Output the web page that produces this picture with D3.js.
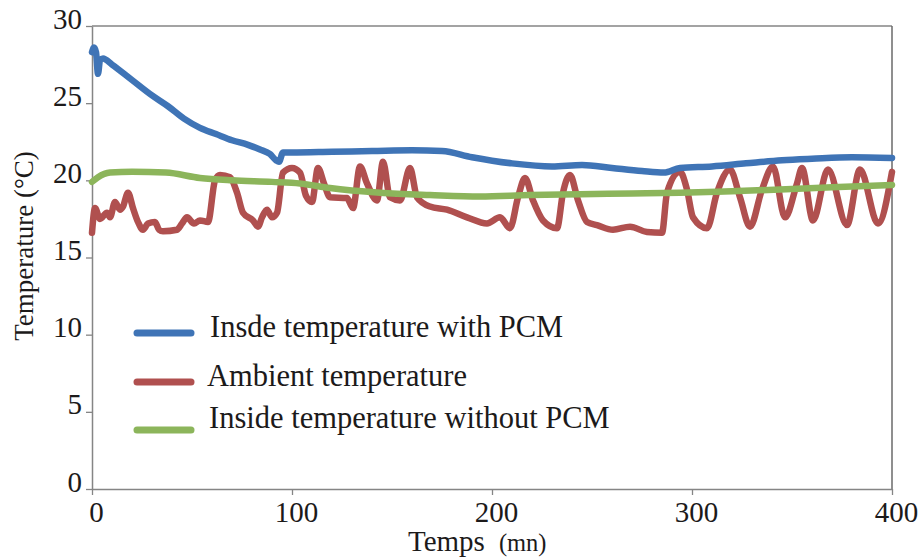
<!DOCTYPE html>
<html>
<head>
<meta charset="utf-8">
<script src="https://cdn.jsdelivr.net/npm/d3@7"></script>
<style>
  html, body { margin: 0; padding: 0; background: #fff; }
  svg { display: block; }
</style>
</head>
<body>
<svg id="chart" width="924" height="560" font-family="Liberation Serif, Tinos, Times New Roman, DejaVu Serif, serif"></svg>
<script>
// ---- data (time in minutes, temperature in °C) ----
const withPcmTime = [0, 1, 2, 3, 4, 5.5, 10, 20, 30, 38, 46, 54, 62, 70, 78, 84, 89, 92, 93.5, 95.5, 100, 120, 140, 160, 175, 190, 210, 230, 245, 260, 275, 286, 294, 310, 327, 345, 360, 380, 400];
const withPcmTemp = [28.3, 28.6, 28.3, 26.9, 27.8, 27.9, 27.5, 26.5, 25.5, 24.8, 24.0, 23.4, 23.0, 22.6, 22.3, 22.0, 21.7, 21.3, 21.2, 21.8, 21.8, 21.85, 21.9, 21.95, 21.9, 21.5, 21.1, 20.9, 21.0, 20.8, 20.6, 20.5, 20.8, 20.9, 21.1, 21.3, 21.4, 21.5, 21.45];

const ambientTime = [0, 1.5, 4, 7.5, 9, 11.5, 14, 15.5, 18, 20.5, 23, 25.5, 28, 31.5, 33.5, 35.5, 42.5, 45, 47.5, 51, 54, 58, 61.5, 64, 69, 72.5, 75.5, 80.5, 83, 85, 87.5, 90, 92.5, 95.5, 100, 104, 107, 110, 113, 116, 119, 127.5, 130.5, 134, 137.5, 142.5, 145.5, 149, 154, 159, 162.5, 169, 177.5, 187.5, 197.5, 204, 209, 213, 216.5, 220.5, 225.5, 232.5, 235.5, 239, 243, 247.5, 252.5, 260.5, 269, 277.5, 285, 287.5, 294, 297.5, 300.5, 307.5, 312.5, 319, 324, 329, 335, 340.5, 346.5, 352.5, 355, 360.5, 368, 377.5, 384, 393, 400];
const ambientTemp = [16.6, 18.2, 17.5, 17.9, 17.6, 18.6, 18.1, 18.3, 19.2, 18.2, 17.3, 16.8, 17.2, 17.3, 16.8, 16.7, 16.8, 17.2, 17.6, 17.2, 17.4, 17.3, 20.0, 20.35, 20.2, 19.2, 17.9, 17.4, 17.0, 17.6, 18.1, 17.6, 17.9, 20.5, 20.8, 20.5, 19.0, 18.6, 20.8, 19.8, 18.9, 18.85, 18.2, 20.9, 19.8, 18.7, 21.2, 18.9, 18.7, 20.8, 18.9, 18.3, 18.1, 17.6, 17.2, 17.6, 16.9, 18.9, 20.15, 18.7, 17.4, 16.9, 19.2, 20.35, 18.7, 17.3, 17.1, 16.8, 17.0, 16.65, 16.6, 19.2, 20.55, 19.4, 17.6, 16.9, 19.2, 20.7, 18.9, 17.0, 19.4, 20.9, 17.6, 19.8, 20.8, 17.4, 20.7, 17.1, 20.7, 17.2, 20.55];

const withoutPcmTime = [0, 3, 9, 20, 37, 54, 70, 90, 104, 119, 144, 169, 194, 219, 244, 270, 294, 320, 344, 370, 400];
const withoutPcmTemp = [19.9, 20.2, 20.5, 20.55, 20.5, 20.15, 20.0, 19.9, 19.8, 19.5, 19.2, 19.05, 18.95, 19.05, 19.1, 19.15, 19.2, 19.3, 19.4, 19.55, 19.7];

const xTicks = [0, 100, 200, 300, 400];
const yTicks = [0, 5, 10, 15, 20, 25, 30];
const seriesNames = ["Insde temperature with PCM", "Ambient temperature", "Inside temperature without PCM"];
const seriesColors = ["#3f74b6", "#b0504f", "#8cb55b"];
const xTitle = "Temps";
const xUnit = "(mn)";
const yTitle = "Temperature (°C)";

// ---- drawing ----
const FONT = "'Liberation Serif', Tinos, 'Times New Roman', 'DejaVu Serif', serif";
const svg = d3.select("#chart");
const x = d3.scaleLinear().domain([0, 400]).range([92, 892]);
const y = d3.scaleLinear().domain([0, 30]).range([489, 26]);
const axisColor = "#858585";

// frame (top and right)
svg.append("line").attr("x1", x(0)).attr("x2", x(400)).attr("y1", y(30)).attr("y2", y(30))
  .attr("stroke", axisColor).attr("stroke-width", 1.5);
svg.append("line").attr("x1", x(400)).attr("x2", x(400)).attr("y1", y(30)).attr("y2", y(0))
  .attr("stroke", "#6a6a6a").attr("stroke-width", 1.5);

// axes
const gx = svg.append("g").attr("transform", `translate(0,${y(0)})`)
  .call(d3.axisBottom(x).tickValues(xTicks).tickSize(6).tickPadding(6).tickSizeOuter(0));
const gy = svg.append("g").attr("transform", `translate(${x(0)},0)`)
  .call(d3.axisLeft(y).tickValues(yTicks).tickSize(6).tickPadding(4).tickSizeOuter(0));
[gx, gy].forEach(g => {
  g.attr("font-family", null).attr("font-size", null);
  g.select(".domain").attr("stroke", axisColor).attr("stroke-width", 1.5);
  g.selectAll(".tick line").attr("stroke", axisColor).attr("stroke-width", 1.3);
  g.selectAll(".tick text").attr("fill", "#1c1a1a").style("font-size", "29px")
    .style("font-family", FONT);
});
gx.selectAll(".tick text").attr("dx", 4);
gy.selectAll(".tick text").attr("dy", "0.07em");

// lines
const line = d3.line().x(d => x(d[0])).y(d => y(d[1])).curve(d3.curveMonotoneX);
const series = [
  d3.zip(withPcmTime, withPcmTemp),
  d3.zip(ambientTime, ambientTemp),
  d3.zip(withoutPcmTime, withoutPcmTemp)
];
const drawOrder = [1, 2, 0];
drawOrder.forEach(i => {
  svg.append("path").datum(series[i]).attr("d", line)
    .attr("fill", "none").attr("stroke", seriesColors[i]).attr("stroke-width", 6.5)
    .attr("stroke-linejoin", "round").attr("stroke-linecap", "round");
});

// legend
const legendY = [333, 382, 430];
const legendTextX = [210, 207, 209];
const legendTextY = [337, 386, 428];
seriesNames.forEach((name, i) => {
  svg.append("line").attr("x1", 137).attr("x2", 191).attr("y1", legendY[i]).attr("y2", legendY[i])
    .attr("stroke", seriesColors[i]).attr("stroke-width", 7).attr("stroke-linecap", "round");
  svg.append("text").attr("x", legendTextX[i]).attr("y", legendTextY[i])
    .attr("fill", "#1c1a1a").style("font-family", FONT)
    .style("font-size", "30.5px").text(name);
});

// axis titles
const xt = svg.append("text").attr("x", 408).attr("y", 551).attr("fill", "#1c1a1a")
  .style("font-family", FONT).style("font-size", "29px");
xt.append("tspan").text(xTitle);
xt.append("tspan").attr("dx", 14).style("font-size", "24.5px").text(xUnit);

svg.append("text").attr("transform", "translate(33,246) rotate(-90)")
  .attr("text-anchor", "middle").attr("fill", "#1c1a1a")
  .style("font-family", FONT).style("font-size", "27px").text(yTitle);
</script>
</body>
</html>
